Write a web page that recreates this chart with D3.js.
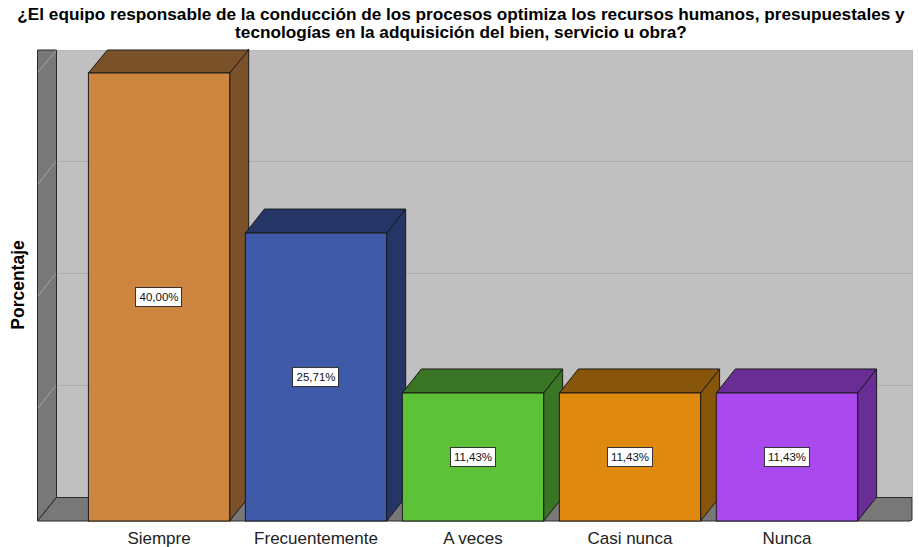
<!DOCTYPE html>
<html>
<head>
<meta charset="utf-8">
<script src="https://cdn.jsdelivr.net/npm/d3@7"></script>
<style>
  body { margin: 0; background: #fff; }
  svg { display: block; font-family: Arial, "Liberation Sans", sans-serif; }
</style>
</head>
<body>
<div id="chart"></div>
<script>
// Data
var categories = ["Siempre", "Frecuentemente", "A veces", "Casi nunca", "Nunca"];
var values = [40.00, 25.71, 11.43, 11.43, 11.43];
var frontColors = ["#cd853f", "#3e5aa8", "#5ec238", "#e0890f", "#aa4aee"];
var sideColors = ["#7b512a", "#253565", "#3a7526", "#88560a", "#6a2c95"];
var yTicks = [0, 10, 20, 30, 40];
var titleLines = [
    "¿El equipo responsable de la conducción de los procesos optimiza los recursos humanos, presupuestales y",
    "tecnologías en la adquisición del bien, servicio u obra?"
];
var yTitle = "Porcentaje";

var width = 919, height = 547;
// 3d depth offset
var dx = 19, dy = -24;
// front plane frame (note: "top" is taken by window.top)
var pLeft = 37, pBottom = 521, pRight = 912, pTop = 50;

var svg = d3.select("#chart").append("svg")
    .attr("width", width)
    .attr("height", height);

var x = d3.scaleBand()
    .domain(categories)
    .range([pLeft + 20, 889])
    .paddingInner(0.1)
    .paddingOuter(0.2);

var y = d3.scaleLinear()
    .domain([0, 40])
    .range([pBottom, 73]);

var locale = d3.formatLocale({decimal: ",", thousands: ".", grouping: [3], currency: ["", ""]});
var fmt = locale.format(".2f");

var plot = svg.append("g");

// back wall
plot.append("rect")
    .attr("x", pLeft + dx + 0.5)
    .attr("y", pTop + 0.5)
    .attr("width", pRight - pLeft - dx)
    .attr("height", pBottom + dy - pTop)
    .attr("fill", "#c0c0c0")
    .attr("stroke", "#b8b8b8");

// grid lines on back wall
plot.selectAll(".grid")
    .data(yTicks.filter(function (t) { return t > 0 && t < 40; }))
    .enter().append("line")
    .attr("x1", pLeft + dx)
    .attr("x2", pRight)
    .attr("y1", function (d) { return y(d) + dy + 0.5; })
    .attr("y2", function (d) { return y(d) + dy + 0.5; })
    .attr("stroke", "#adadad");

// left wall
plot.append("polygon")
    .attr("points", [[pLeft + 0.5, pTop], [pLeft + dx + 0.5, pTop], [pLeft + dx + 0.5, pBottom + dy], [pLeft + 0.5, pBottom]].join(" "))
    .attr("fill", "#787878")
    .attr("stroke", "#2a2a2a");

plot.selectAll(".tick3d")
    .data(yTicks.filter(function (t) { return t > 0; }))
    .enter().append("line")
    .attr("x1", pLeft + dx)
    .attr("x2", pLeft + 1)
    .attr("y1", function (d) { return Math.max(y(d) + dy, pTop + 1); })
    .attr("y2", function (d) { return y(d) - 1; })
    .attr("stroke", "#a4a4a4");

// floor
plot.append("polygon")
    .attr("points", [[pLeft + 0.5, pBottom], [pLeft + dx + 0.5, pBottom + dy + 0.5], [pRight, pBottom + dy + 0.5], [pRight, pBottom - 1], [pRight - 2, pBottom]].join(" "))
    .attr("fill", "#787878")
    .attr("stroke", "#2a2a2a");

// bars
var bw = x.bandwidth();
var bars = plot.selectAll(".bar")
    .data(categories)
    .enter().append("g")
    .attr("class", "bar");

bars.append("polygon")
    .attr("points", function (d, i) {
        var x1 = x(d) + bw, yv = y(values[i]);
        return [[x1, yv], [x1 + dx, yv + dy], [x1 + dx, pBottom + dy], [x1, pBottom]].join(" ");
    })
    .attr("fill", function (d, i) { return sideColors[i]; })
    .attr("stroke", "#1a1a1a")
    .attr("stroke-linejoin", "round");

bars.append("polygon")
    .attr("points", function (d, i) {
        var x0 = x(d), x1 = x(d) + bw, yv = y(values[i]);
        return [[x0, yv], [x0 + dx, Math.max(yv + dy, pTop)], [x1 + dx, Math.max(yv + dy, pTop)], [x1, yv]].join(" ");
    })
    .attr("fill", function (d, i) { return sideColors[i]; })
    .attr("stroke", "#1a1a1a")
    .attr("stroke-linejoin", "round");

bars.append("rect")
    .attr("x", function (d) { return x(d); })
    .attr("y", function (d, i) { return y(values[i]); })
    .attr("width", bw)
    .attr("height", function (d, i) { return pBottom - y(values[i]); })
    .attr("fill", function (d, i) { return frontColors[i]; })
    .attr("stroke", "#1a1a1a");

// value labels
var lab = svg.selectAll(".vlabel")
    .data(categories)
    .enter().append("g")
    .attr("class", "vlabel")
    .attr("transform", function (d, i) {
        return "translate(" + (x(d) + bw / 2) + "," + ((y(values[i]) + pBottom) / 2) + ")";
    });

lab.append("rect");
lab.append("text")
    .attr("text-anchor", "middle")
    .attr("dy", "0.36em")
    .attr("font-size", "11.5px")
    .attr("fill", "#111")
    .text(function (d, i) { return fmt(values[i]) + "%"; });

lab.each(function () {
    var g = d3.select(this);
    var w = g.select("text").node().getComputedTextLength();
    g.select("rect")
        .attr("x", -Math.round(w / 2) - 3.5)
        .attr("y", -9.5)
        .attr("width", Math.round(w) + 7)
        .attr("height", 19)
        .attr("fill", "#fff")
        .attr("stroke", "#333");
});

// category labels
svg.selectAll(".xlabel")
    .data(categories)
    .enter().append("text")
    .attr("x", function (d) { return x(d) + bw / 2; })
    .attr("y", 544)
    .attr("text-anchor", "middle")
    .attr("font-size", "17px")
    .attr("fill", "#222")
    .text(function (d) { return d; });

// title
svg.selectAll(".title")
    .data(titleLines)
    .enter().append("text")
    .attr("x", 461)
    .attr("y", function (d, i) { return 20 + i * 18; })
    .attr("text-anchor", "middle")
    .attr("font-size", "17.2px")
    .attr("font-weight", "bold")
    .attr("fill", "#000")
    .text(function (d) { return d; });

// y axis title
svg.append("text")
    .attr("transform", "translate(24,285) rotate(-90)")
    .attr("text-anchor", "middle")
    .attr("font-size", "17.5px")
    .attr("font-weight", "bold")
    .attr("fill", "#000")
    .text(yTitle);
</script>
</body>
</html>
